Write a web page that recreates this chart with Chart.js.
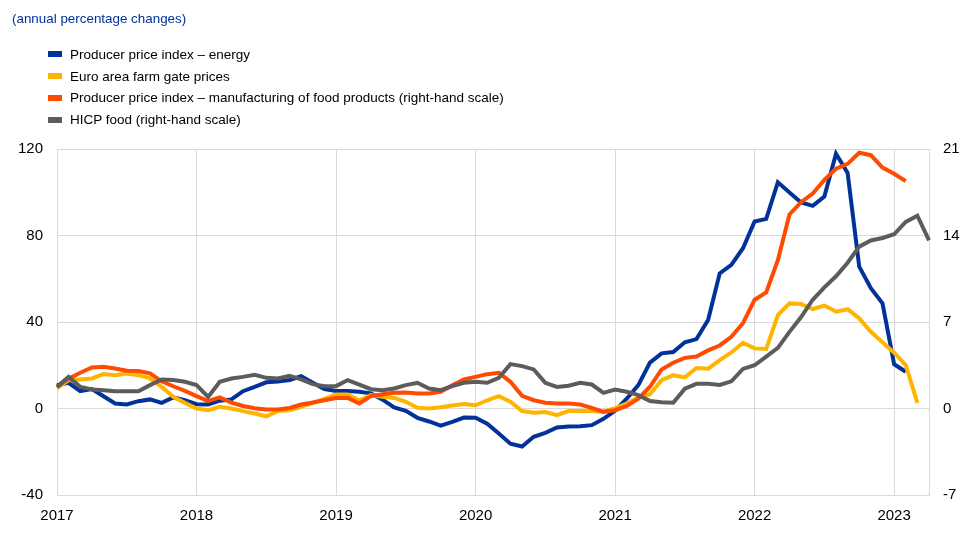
<!DOCTYPE html>
<html>
<head>
<meta charset="utf-8">
<script src="https://cdn.jsdelivr.net/npm/chart.js@4.4.0/dist/chart.umd.min.js"></script>
<style>
  body { margin: 0; background: #fff; font-family: "Liberation Sans", Arial, sans-serif; }
  #wrap { position: relative; width: 962px; height: 534px; }
  #chart { position: absolute; left: 0; top: 0; }
  .title { position: absolute; left: 12px; top: 11px; font-size: 13.4px; color: #003299; }
  .legend { position: absolute; left: 48px; top: 44px; font-size: 13.5px; color: #000; }
  .legend div { height: 21.7px; line-height: 21.7px; white-space: nowrap; }
  .legend span { display: inline-block; width: 14px; height: 6px; margin-right: 8px; vertical-align: middle; position: relative; top: -1px; }
</style>
</head>
<body>
<div id="wrap">
  <canvas id="chart" width="962" height="534"></canvas>
  <div class="title">(annual percentage changes)</div>
  <div class="legend" id="legend"></div>
</div>
<script>
// tick labels
const years = ['2017', '2018', '2019', '2020', '2021', '2022', '2023'];
const monthCount = 76; // Jan 2017 .. Apr 2023

// series (monthly, starting Jan 2017)
const energyPPI = [
  10.8, 11.9, 8, 9, 5.7, 2.3, 1.9, 3.4, 4.2, 2.6, 5.1, 3.9,
  2, 1.9, 3.6, 4.2, 8, 10, 12.1, 12.5, 13.2, 14.9, 11.9, 9,
  8.1, 8.1, 7.7, 7, 4.1, 0.5, -1.1, -4.3, -6, -7.9, -6.2, -4.2,
  -4.3, -7, -11.6, -16.3, -17.6, -13.1, -11.3, -8.8, -8.3, -8.2, -7.7, -4.8,
  -1, 4.5, 10.8, 21.2, 25.5, 26.1, 30.6, 32.1, 40.9, 62.5, 66.4, 74.1,
  86.5, 87.7, 104.6, 99.9, 95.3, 93.7, 98, 117.8, 108.9, 65.6, 55.6, 48.6,
  20.5, 17
];
const farmGate = [
  9.3, 13.1, 13.4, 13.9, 15.9, 15.4, 16.2, 15.4, 13.9, 10, 5.4, 2.6,
  0, -0.8, 0.8, 0, -1.2, -2.3, -3.6, -1.2, -0.8, 0.8, 2.6, 4.5,
  6.5, 6.5, 3.8, 6.2, 5.4, 4.9, 3.1, 0.3, 0, 0.6, 1.4, 2.1,
  1.5, 3.8, 5.7, 3.1, -1.2, -2, -1.6, -3.1, -1.2, -1.1, -1.2, -1.5,
  0.2, 2.3, 5.1, 6.6, 13.1, 15.4, 14.4, 18.7, 18.4, 22.4, 25.9, 30.4,
  27.8, 27.5, 43.2, 48.6, 48.3, 46, 47.6, 44.8, 45.9, 41.7, 35.5, 30.6,
  25.8, 20.1, 2.6
];
const foodPPI = [
  1.75, 2.42, 2.89, 3.32, 3.38, 3.24, 3.05, 3.03, 2.84, 2.2, 1.8, 1.43,
  1.0, 0.6, 0.9, 0.48, 0.2, 0.02, -0.08, -0.08, 0.05, 0.32, 0.48, 0.67,
  0.84, 0.86, 0.4, 1.0, 1.16, 1.27, 1.3, 1.21, 1.21, 1.35, 1.89, 2.35,
  2.56, 2.78, 2.89, 2.16, 1.02, 0.67, 0.46, 0.4, 0.4, 0.32, 0.05, -0.27,
  -0.14, 0.2, 0.8, 1.76, 3.16, 3.7, 4.1, 4.2, 4.7, 5.1, 5.8, 6.9,
  8.8, 9.4, 12.0, 15.7, 16.7, 17.4, 18.5, 19.4, 19.8, 20.7, 20.5, 19.5,
  19.0, 18.4
];
const hicpFood = [
  1.75, 2.56, 1.75, 1.54, 1.48, 1.4, 1.4, 1.4, 1.89, 2.35, 2.3, 2.16,
  1.89, 0.94, 2.16, 2.43, 2.56, 2.73, 2.48, 2.43, 2.65, 2.35, 1.97, 1.81,
  1.81, 2.3, 1.94, 1.56, 1.48, 1.62, 1.89, 2.08, 1.62, 1.48, 1.81, 2.08,
  2.16, 2.08, 2.48, 3.59, 3.43, 3.16, 2.08, 1.75, 1.84, 2.08, 1.94, 1.27,
  1.54, 1.35, 1.08, 0.6, 0.5, 0.46, 1.6, 2.0, 2.0, 1.9, 2.2, 3.2,
  3.5, 4.2, 4.9, 6.2, 7.4, 8.8, 9.8, 10.7, 11.8, 13.1, 13.6, 13.8,
  14.1, 15.1, 15.6, 13.6
];

const leftTicks = [-40, 0, 40, 80, 120];
const rightTicks = [-7, 0, 7, 14, 21];

const gridColor = '#d9d9d9';

// month labels
const labels = [];
for (let i = 0; i < monthCount; i++) {
  labels.push(years[Math.floor(i / 12)] + '-' + String(i % 12 + 1).padStart(2, '0'));
}

const series = [
  { label: 'Producer price index \u2013 energy', data: energyPPI, color: '#003299', axis: 'y', order: 4 },
  { label: 'Euro area farm gate prices', data: farmGate, color: '#ffb400', axis: 'y', order: 3 },
  { label: 'Producer price index \u2013 manufacturing of food products (right-hand scale)', data: foodPPI, color: '#ff4b00', axis: 'y1', order: 2 },
  { label: 'HICP food (right-hand scale)', data: hicpFood, color: '#5c5c5c', axis: 'y1', order: 1 }
];

// html legend
const legendEl = document.getElementById('legend');
series.forEach(s => {
  const row = document.createElement('div');
  row.innerHTML = '<span style="background:' + s.color + '"></span>' + s.label;
  legendEl.appendChild(row);
});

const tickFont = { family: '"Liberation Sans", Arial, sans-serif', size: 15 };

new Chart(document.getElementById('chart'), {
  type: 'line',
  data: {
    labels: labels,
    datasets: series.map(s => ({
      label: s.label,
      data: s.data,
      yAxisID: s.axis,
      order: s.order,
      borderColor: s.color,
      backgroundColor: s.color,
      borderWidth: 4,
      pointRadius: 0,
      tension: 0,
      fill: false
    }))
  },
  options: {
    responsive: false,
    animation: false,
    layout: { padding: { top: 149, left: 0, right: 0, bottom: 0 } },
    plugins: {
      legend: { display: false },
      tooltip: { enabled: false }
    },
    scales: {
      x: {
        type: 'category',
        offset: false,
        grid: {
          drawTicks: false,
          color: ctx => (ctx.index % 12 === 0 ? gridColor : 'rgba(0,0,0,0)')
        },
        border: { display: true, color: gridColor },
        ticks: {
          autoSkip: false,
          maxRotation: 0,
          padding: 12,
          color: '#000',
          font: tickFont,
          callback: (v, i) => (i % 12 === 0 ? years[i / 12] : '')
        },
        afterFit: scale => { scale.height = 39; }
      },
      y: {
        position: 'left',
        min: -40,
        max: 120,
        afterBuildTicks: scale => { scale.ticks = leftTicks.map(v => ({ value: v })); },
        grid: { drawTicks: false, color: gridColor },
        border: { display: true, color: gridColor },
        ticks: { padding: 14, color: '#000', font: tickFont },
        afterFit: scale => { scale.width = 57; }
      },
      y1: {
        position: 'right',
        min: -7,
        max: 21,
        afterBuildTicks: scale => { scale.ticks = rightTicks.map(v => ({ value: v })); },
        grid: { display: false, drawTicks: false },
        border: { display: true, color: gridColor },
        ticks: { padding: 14, color: '#000', font: tickFont },
        afterFit: scale => { scale.width = 33; }
      }
    }
  }
});
</script>
</body>
</html>
